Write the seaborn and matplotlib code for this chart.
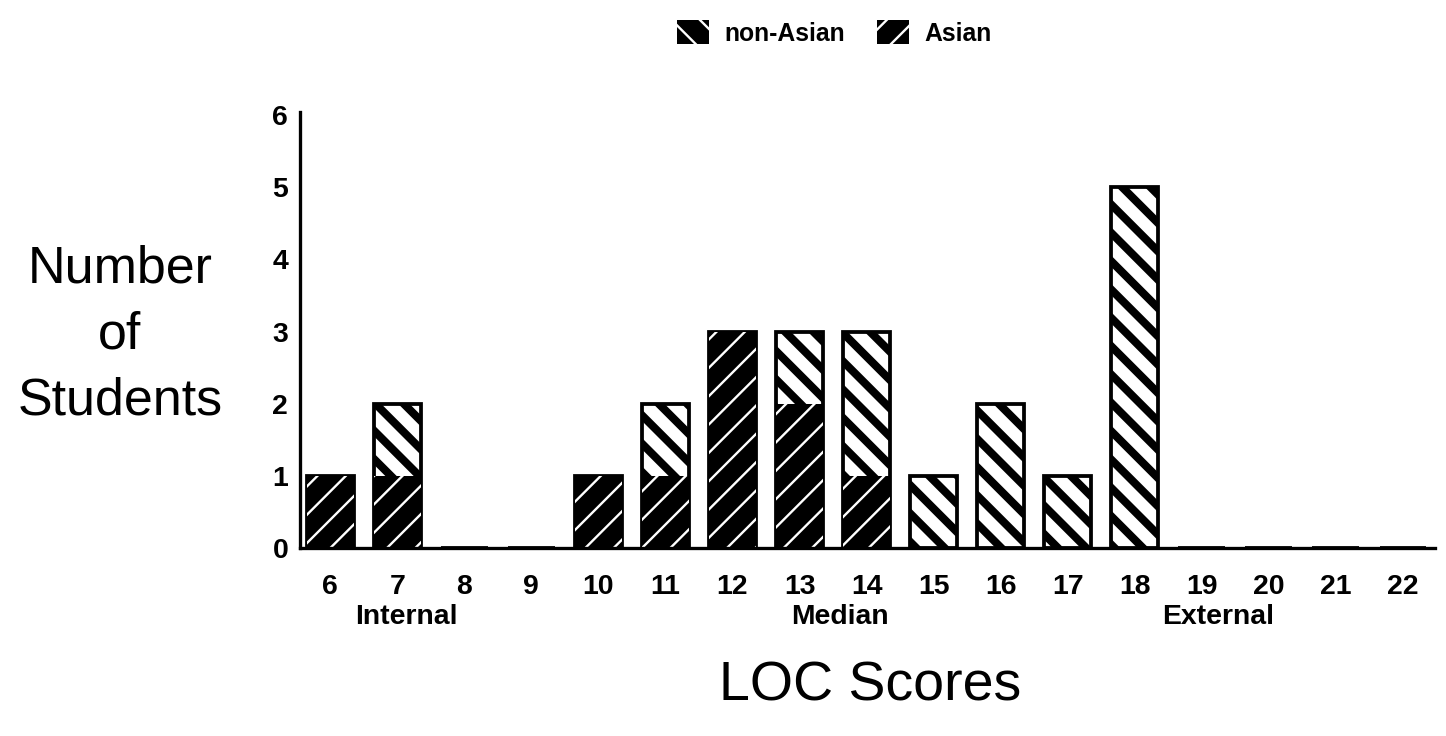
"""LOC score distribution, Asian vs non-Asian students (stacked hatched bars)."""

import numpy as np
import pandas as pd
import matplotlib
matplotlib.use("Agg")
import matplotlib.pyplot as plt
from matplotlib.patches import Patch
import seaborn as sns

SCORES = [str(s) for s in range(6, 23)]
ASIAN = [1, 1, 0, 0, 1, 1, 3, 2, 1, 0, 0, 0, 0, 0, 0, 0, 0]
NON_ASIAN = [0, 1, 0, 0, 0, 1, 0, 1, 2, 1, 2, 1, 5, 0, 0, 0, 0]
REGIONS = ["Internal", "Median", "External"]

df = pd.DataFrame({"score": SCORES, "asian": ASIAN, "non_asian": NON_ASIAN})
df["total"] = df["asian"] + df["non_asian"]

sns.set_style("white")
plt.rcParams["font.family"] = ["Liberation Sans", "DejaVu Sans"]
plt.rcParams["text.color"] = "black"
plt.rcParams["axes.labelcolor"] = "black"
plt.rcParams["xtick.color"] = "black"
plt.rcParams["ytick.color"] = "black"

DPI = 170
fig = plt.figure(figsize=(1446 / DPI, 736 / DPI), dpi=DPI)
ax = fig.add_axes([0.2075, 0.2554, 0.785, 0.593])

# non-Asian: white with thick black "\" stripes, drawn to the stack total
with plt.rc_context({"hatch.linewidth": 3.4, "hatch.color": "black"}):
    sns.barplot(data=df, x="score", y="total", order=SCORES, color="white",
                edgecolor="black", linewidth=1.6, width=0.7, hatch="\\\\",
                errorbar=None, saturation=1, ax=ax)
n_top = len(ax.patches)
for p in ax.patches:
    if hasattr(p, "set_hatch_linewidth"):
        p.set_hatch_linewidth(3.4)

# Asian: black with thin white "/" lines, on the bottom of the stack
with plt.rc_context({"hatch.linewidth": 1.0, "hatch.color": "white"}):
    sns.barplot(data=df, x="score", y="asian", order=SCORES, color="black",
                edgecolor="white", linewidth=0, width=0.7, hatch="//",
                errorbar=None, saturation=1, ax=ax)
for p in ax.patches[n_top:]:
    p.set_facecolor("black")
    if hasattr(p, "set_hatch_linewidth"):
        p.set_hatch_linewidth(1.0)

ax.set_xlim(-0.45, 16.48)
ax.set_ylim(0, 6.05)
ax.set_yticks(range(0, 7))
sns.despine(ax=ax)
for side in ["left", "bottom"]:
    ax.spines[side].set_linewidth(1.4)
    ax.spines[side].set_color("black")
ax.tick_params(axis="x", length=0, pad=11, labelsize=12)
ax.tick_params(axis="y", length=0, pad=5, labelsize=12)
for lab in ax.get_xticklabels() + ax.get_yticklabels():
    lab.set_fontweight("bold")

ax.set_ylabel("Number\nof\nStudents", rotation=0, fontsize=22,
              ha="center", va="center", linespacing=1.45)
ax.yaxis.set_label_coords(-0.1586, 0.488)
ax.set_xlabel("LOC Scores", fontsize=23.5, va="center")
ax.xaxis.set_label_coords(0.502, -0.318)

trans = ax.get_xaxis_transform()
for label, xpos in zip(REGIONS, [1.13, 7.6, 13.24]):
    ax.text(xpos, -0.158, label, transform=trans, ha="center", va="center",
            fontsize=12, fontweight="bold")

handles = [
    Patch(facecolor="black", edgecolor="white", hatch="\\\\", linewidth=0),
    Patch(facecolor="black", edgecolor="white", hatch="//", linewidth=0),
]
fig.legend(handles, ["non-Asian", "Asian"], loc="center", ncol=2,
           bbox_to_anchor=(0.577, 0.955), frameon=False,
           handlelength=1.3, handleheight=1.1, handletextpad=0.6,
           columnspacing=1.3, prop={"weight": "bold", "size": 10.5})

fig.savefig("out.png", dpi=DPI)
plt.close(fig)
print("[SAVED] out.png")
